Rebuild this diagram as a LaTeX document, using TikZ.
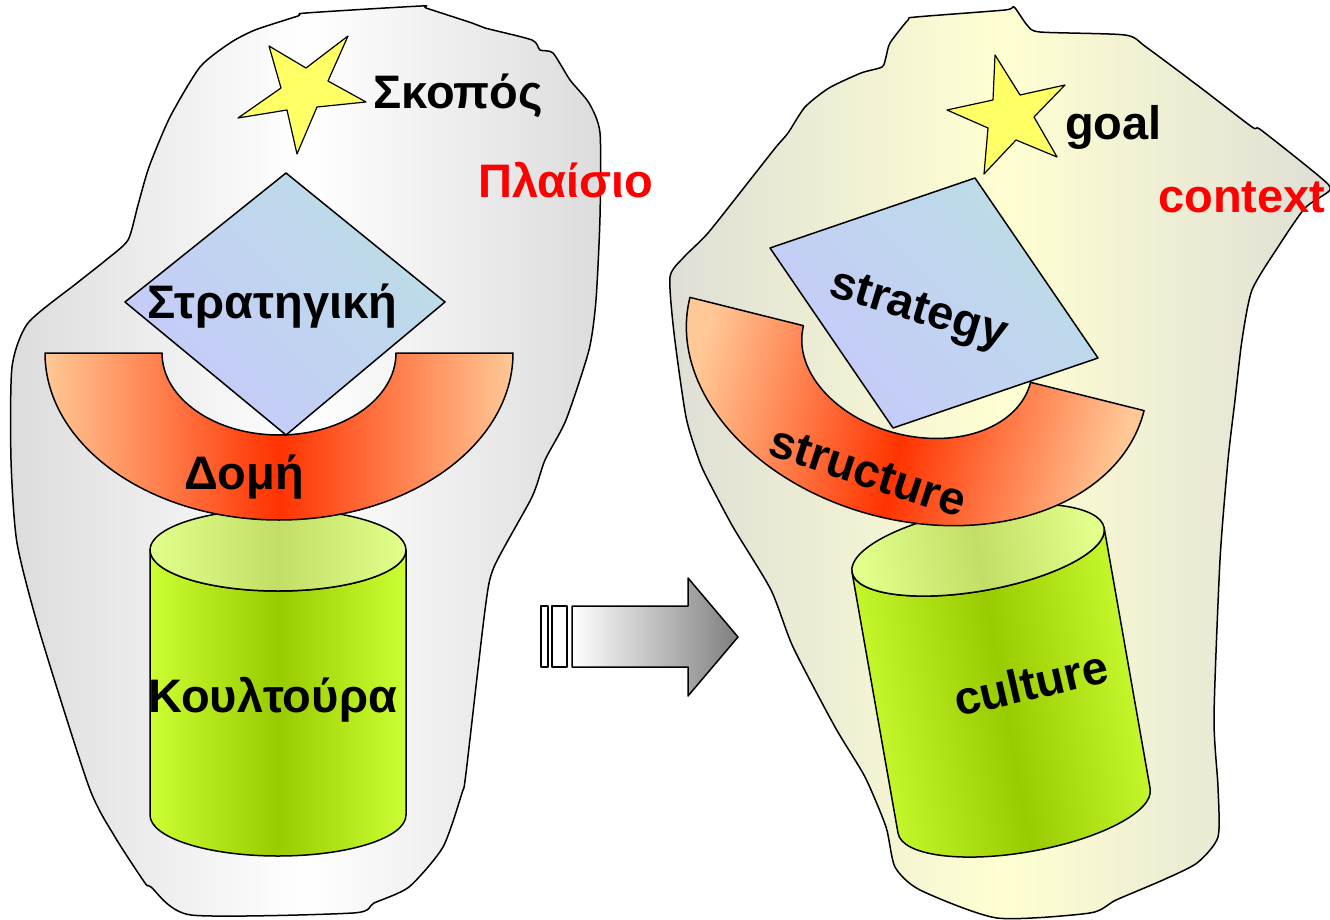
\documentclass[tikz,border=0pt]{standalone}
\usepackage{fontspec}
\setmainfont{Liberation Sans}
\definecolor{blobL}{HTML}{DCDCDC}
\definecolor{blobR}{HTML}{DEDED6}
\definecolor{blobRc}{HTML}{FFFFD2}
\definecolor{starY}{HTML}{FFFF66}
\definecolor{dLav}{HTML}{C6CAFA}
\definecolor{dBlu}{HTML}{BCDDE6}
\definecolor{arcEdge}{HTML}{FFC896}
\definecolor{arcMid}{HTML}{FF3300}
\definecolor{cylEdge}{HTML}{CCFF33}
\definecolor{cylMid}{HTML}{99CC00}
\definecolor{topEdge}{HTML}{E2FF8C}
\definecolor{topMid}{HTML}{C2DE66}
\definecolor{arrG}{HTML}{7F7F7F}
\begin{document}
\begin{tikzpicture}[x=1pt,y=-1pt, line join=round,
  outl/.style={draw=black, line width=1.5pt},
  lbl/.style={font=\bfseries\fontsize{47}{52}\selectfont, inner sep=0pt, text=black},
  redlbl/.style={lbl, text=red},
  arcshade/.style={left color=arcEdge, right color=arcEdge, middle color=arcMid},
  cylshade/.style={left color=cylEdge, right color=cylEdge, middle color=cylMid},
  topshade/.style={left color=topEdge, right color=topEdge, middle color=topMid}]
\useasboundingbox (0,0) rectangle (1330,920);

% ===== left blob =====
\path[outl, left color=blobL, right color=blobL, middle color=white]
 plot[smooth cycle, tension=0.4] coordinates {
 (306,13) (421,6) (426,8) (472,23) (485,28) (532,40) (540,50) (553,53) (570,80)
 (589,103) (600,133) (600,217) (596,300) (589,350) (566,420) (545,460) (532,497)
 (494,567) (485,610) (466,773) (462,793) (443,847) (409,887) (374,903) (353,913)
 (191,915) (151,887) (145,883) (115,837) (89,787) (40,633) (17,543) (11,460)
 (12,367) (28,323) (77,283) (106,260) (128,240) (138,205) (149,167) (170,117) (200,67)
 (230,43) (255,30) (298,16)};

% left star
\path[outl, fill=starY, line width=1.2pt] (348,36) -- (328,81) -- (366,102) -- (317,107) -- (297,154)
 -- (287,110) -- (238,118) -- (281,88) -- (269,46) -- (306,68) -- cycle;

% left cylinder
\path[outl, cylshade] (150,550) -- (150,815) arc[start angle=180, end angle=0, x radius=128, y radius=41]
 -- (406,550) arc[start angle=0, end angle=180, x radius=128, y radius=41] -- cycle;
\path[outl, topshade] (278,550) ellipse[x radius=128, y radius=41];

% left arc (structure)
\path[outl, arcshade] (45,353) arc[start angle=180, end angle=0, x radius=234, y radius=167]
 -- (396,353) arc[start angle=0, end angle=180, x radius=117, y radius=82] -- cycle;

% left diamond
\path[outl, left color=dLav, right color=dBlu, shading angle=135]
 (286,173) -- (445,302) -- (286,435) -- (125,302) -- cycle;

% ===== arrow =====
\path[outl, fill=white] (541,606) rectangle (548,667);
\path[outl, fill=white] (552,606) rectangle (567,667);
\path[outl, left color=white, right color=arrG]
 (572,606) -- (688,606) -- (688,578) -- (738,637) -- (688,696) -- (688,667) -- (572,667) -- cycle;

% ===== right blob =====
\path[outl, left color=blobR, right color=blobR, middle color=blobRc]
 plot[smooth cycle, tension=0.4] coordinates {
 (1014,7) (1027,25) (1040,32) (1125,35) (1146,47) (1201,88) (1252,127) (1261,130)
 (1320,177) (1330,190) (1305,208) (1278,247) (1252,290) (1242,340) (1235,400)
 (1228,460) (1220,560) (1214,717) (1218,787) (1218,837) (1197,863) (1163,880)
 (1116,900) (1090,913) (997,918) (920,890) (895,867) (886,827) (865,777) (835,727)
 (793,647) (771,590) (733,527) (708,480) (699,460) (686,417) (674,333) (670,277)
 (684,257) (708,233) (750,180) (776,147) (788,133) (805,107) (829,88) (861,73)
 (882,67) (886,57) (890,43) (908,20) (916,17) (1005,10)};

% right star
\path[outl, fill=starY, line width=1.2pt] (995,55) -- (1020,95) -- (1065,85) -- (1034,117) -- (1057,157)
 -- (1016,140) -- (984,174) -- (988,128) -- (947,110) -- (993,100) -- cycle;

% right cylinder
\begin{scope}[shift={(723,-2)}, rotate around={10:(278,682)}]
\path[outl, cylshade, shading angle=100] (150,550) -- (150,815) arc[start angle=180, end angle=0, x radius=128, y radius=41]
 -- (406,550) arc[start angle=0, end angle=180, x radius=128, y radius=41] -- cycle;
\path[outl, topshade, shading angle=100] (278,550) ellipse[x radius=128, y radius=41];
\end{scope}

% right arc
\begin{scope}[shift={(638,1)}, rotate around={-14:(279,353)}]
\path[outl, arcshade, shading angle=76] (45,353) arc[start angle=180, end angle=0, x radius=234, y radius=167]
 -- (396,353) arc[start angle=0, end angle=180, x radius=117, y radius=82] -- cycle;
\end{scope}

% right rhombus
\path[outl, left color=dLav, right color=dBlu, shading angle=135]
 (975,178) -- (1098,358) -- (893,428) -- (770,248) -- cycle;

% ===== labels =====
\node[lbl, anchor=base west] (skopos) at (373,109) {Σκοπός};
\node[redlbl, anchor=base west] (plaisio) at (478,198) {Πλαίσιο};
\node[lbl, anchor=base west] (strat) at (147,318) {Στρατηγική};
\node[lbl, anchor=base west] (domi) at (184,489) {Δομή};
\node[lbl, anchor=base west] (koult) at (148,712) {Κουλτούρα};

\node[lbl, anchor=base west] (goal) at (1065,140) {goal};
\node[redlbl, anchor=base west] (context) at (1158,213) {context};
\node[lbl, rotate=-17] (strategy) at (918,312) {strategy};
\node[lbl, rotate=-18] (structure) at (868,472) {structure};
\node[lbl, rotate=13] (culture) at (1031,683) {culture};
\end{tikzpicture}
\end{document}
